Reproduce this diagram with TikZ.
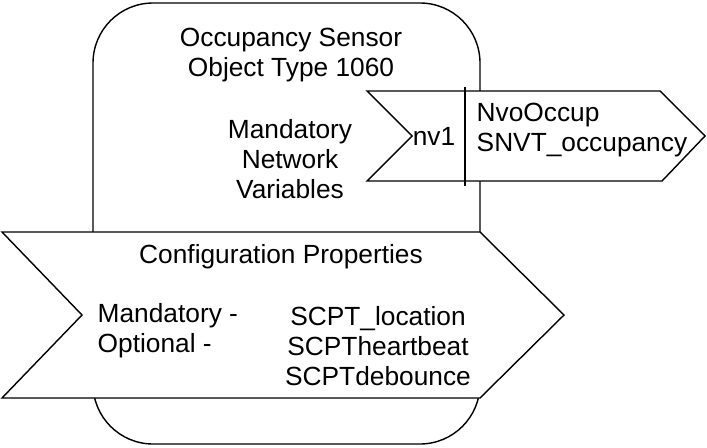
\documentclass[tikz,border=0pt]{standalone}
\usepackage{fontspec}
\setmainfont{Liberation Sans}
\begin{document}
\begin{tikzpicture}[x=0.025cm,y=-0.025cm,line width=1pt,
		lbl/.style={inner sep=0pt,align=center,font=\fontsize{18.7}{21.3}\selectfont},
		lbll/.style={lbl,align=left,anchor=west}]
		\useasboundingbox (0,0) rectangle (707,447);

		% object body
		\draw[rounded corners=1.5cm] (93,3) rectangle (480,444);

		% network variable nv1
		\draw[fill=white] (367,91) -- (660,91) -- (705,136) -- (662,181) -- (367,181) -- (412,136) -- cycle;
		\coordinate (divtop) at (465,87);
		\coordinate (divbot) at (465,186);
		\draw (divtop) -- (divbot);

		% configuration properties
		\draw[fill=white] (2,232) -- (480,232) -- (564,315) -- (480,398) -- (2,398) -- (82,315) -- cycle;

		\node[lbl] (title) at (291,55) {Occupancy Sensor\\Object Type 1060};
		\node[lbl] (mandnv) at (290,159) {Mandatory\\Network\\Variables};
		\node[lbl] (nv) at (434,136) {nv1};
		\node[lbll] (nvo) at (476,130) {NvoOccup\\SNVT\_occupancy};
		\node[lbl] (cfg) at (281,257) {Configuration Properties};
		\node[lbll] (cfgkind) at (97,331) {Mandatory -\\Optional -};
		\node[lbl] (cfglist) at (378,346) {SCPT\_location\\SCPTheartbeat\\SCPTdebounce};
	\end{tikzpicture}
\end{document}
